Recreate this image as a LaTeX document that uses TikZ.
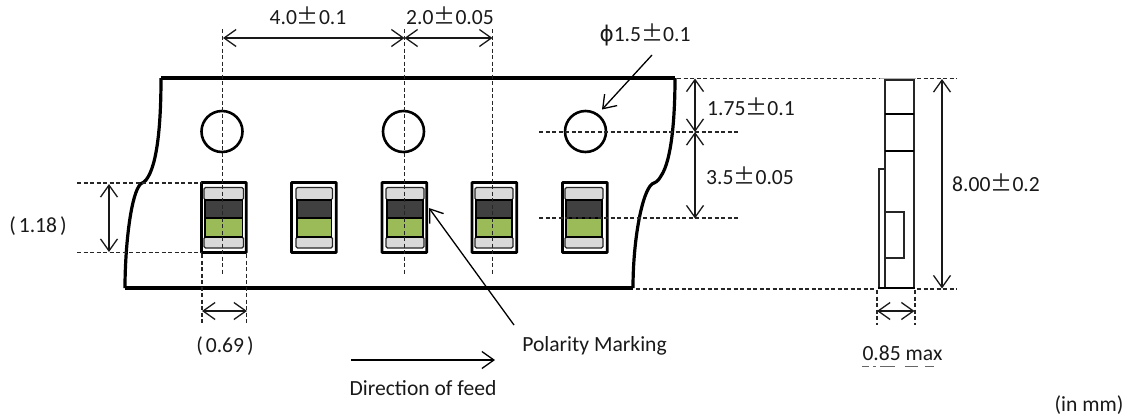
\documentclass[tikz,border=0pt]{standalone}
\usepackage{fontspec}
\setmainfont{Carlito}
\newfontfamily\cjkf{Noto Sans CJK JP}
\newfontfamily\phif{DejaVu Sans}
\usetikzlibrary{arrows.meta}
\newcommand{\pmm}{{\cjkf\scalebox{1.02}{±}}}
\newcommand{\lpar}{(\kern3pt}
\newcommand{\rpar}{\kern3pt)}
\definecolor{capgray}{HTML}{D9D9D9}
\definecolor{darkbody}{HTML}{404040}
\definecolor{greenbody}{HTML}{9BBB59}
\tikzset{
  tape/.style={draw=black,line width=3.6pt},
  tapecurve/.style={draw=black,line width=3.2pt},
  hole/.style={draw=black,line width=2.6pt},
  pocket/.style={draw=black,line width=2.8pt,rounded corners=0.5pt},
  capbox/.style={draw=black!85,line width=1.1pt,fill=capgray,rounded corners=1.5pt},
  bodybox/.style={draw=black,line width=1.1pt},
  guide/.style={draw=black!85,line width=1.25pt,dash pattern=on 4pt off 2.5pt},
  dim/.style={draw=black!90,line width=1.3pt,{Straight Barb[length=12pt,width=17pt]}-{Straight Barb[length=12pt,width=17pt]}},
  lead/.style={draw=black,line width=1.3pt,-{Straight Barb[length=12pt,width=17pt]}},
  side/.style={draw=black!85,line width=1.6pt},
  lab/.style={font=\fontsize{21.6}{24}\selectfont,inner sep=0pt,text=black!90},
}
\begin{document}
\begin{tikzpicture}[x=1pt,y=-1pt]
\useasboundingbox (0,0) rectangle (1127,416);
% tape
\coordinate (tl) at (161,78); \coordinate (tr) at (675,78);
\coordinate (bl) at (125,288); \coordinate (br) at (633,288);
\draw[tape] (tl) -- (tr);
\draw[tape] (bl) -- (br);
\draw[tapecurve] (tl) .. controls (161,120) and (158,165) .. (146,180) .. controls (143,184) and (141,182) .. (139,186) .. controls (130,200) and (125,250) .. (bl);
\draw[tapecurve] (tr) .. controls (675,115) and (672,160) .. (661,176) .. controls (657,183) and (655,182) .. (652,184) .. controls (642,192) and (633,240) .. (br);
% holes
\node[hole,circle,minimum size=41pt,inner sep=0pt] (h1) at (222,131.5) {};
\node[hole,circle,minimum size=41pt,inner sep=0pt] (h2) at (403.5,131.5) {};
\node[hole,circle,minimum size=41pt,inner sep=0pt] (h3) at (585.5,131.5) {};
% pockets: left edge of pocket, left/right of component
\foreach \pl/\cl/\cr in {201.5/204/243.5, 291.5/296/332.5, 382/386/424, 472/475/513, 562.5/565/603}{
  \draw[pocket] (\pl,182.5) rectangle ++(44.7,70);
  \draw[capbox] (\cl,187.5) rectangle (\cr,199.8);
  \draw[capbox] (\cl,237) rectangle (\cr,248);
  \draw[bodybox,fill=darkbody] (\cl+1,200) rectangle (\cr-1,218);
  \draw[bodybox,fill=greenbody] (\cl+1,218) rectangle (\cr-1,237);
}
% centre lines
\coordinate (c1t) at (222.7,29); \coordinate (c1b) at (222.7,275);
\coordinate (c2t) at (404.8,29); \coordinate (c2b) at (404.8,275);
\coordinate (c3t) at (492.4,29); \coordinate (c3b) at (492.4,275);
\draw[guide] (c1t) -- (c1b);
\draw[guide] (c2t) -- (c2b);
\draw[guide] (c3t) -- (c3b);
% horizontal guides
\draw[guide] (77,183) -- (201,183);
\draw[guide] (77,252.5) -- (201,252.5);
\draw[guide] (539,132) -- (740,132);
\draw[guide] (539,218) -- (740,218);
\draw[guide] (677,78.5) -- (880,78.5);
\draw[guide] (917,78.5) -- (957,78.5);
\draw[guide] (636,289) -- (875,289);
\draw[guide] (917,289) -- (957,289);
\draw[black!30,line width=1pt] (880,78.5) -- (916,78.5);
% vertical guides
\draw[guide] (202,254) -- (202,325);
\draw[guide] (246.7,254) -- (246.7,325);
\draw[guide] (877,290) -- (877,325);
\draw[guide] (915,290) -- (915,325);
% dimension arrows
\coordinate (a1l) at (223,38); \coordinate (a1m) at (404.5,38); \coordinate (a1r) at (492.5,38);
\draw[dim] (a1l) -- (a1m);
\draw[dim] (a1m) -- (a1r);
\coordinate (a2t) at (109,184); \coordinate (a2b) at (109,252);
\draw[dim] (a2t) -- (a2b);
\coordinate (a3l) at (202,311); \coordinate (a3r) at (247,311);
\draw[dim] (a3l) -- (a3r);
\coordinate (a4t) at (695,78.5); \coordinate (a4m) at (695,132); \coordinate (a4b) at (695,218.5);
\draw[dim] (a4t) -- (a4m);
\draw[dim] (a4m) -- (a4b);
\coordinate (a5t) at (942,79); \coordinate (a5b) at (942,288.5);
\draw[dim] (a5t) -- (a5b);
\coordinate (a6l) at (877,311); \coordinate (a6r) at (914.5,311);
\draw[dim] (a6l) -- (a6r);
% leaders
\coordinate (l1s) at (652,55); \coordinate (l1e) at (602,109.5);
\draw[lead] (l1s) -- (l1e);
\coordinate (l2s) at (514,325); \coordinate (l2e) at (429,208);
\draw[lead] (l2s) -- (l2e);
\coordinate (l3s) at (351,360); \coordinate (l3e) at (495,360);
\draw[lead] (l3s) -- (l3e);
% side view
\draw[side] (885,80) rectangle (913.7,288);
\draw[side] (885,211.7) rectangle (904,258);
\draw[side] (878.7,168.7) rectangle (885,288);
\draw[black,line width=2.6pt] (885,114) -- (913.7,114);
\draw[black,line width=2.6pt] (885,151) -- (913.7,151);
\draw[black,line width=2.2pt] (878,288) -- (914.5,288);
% clipped remnant under 0.85 max
\draw[black!60,line width=0.8pt] (862,366) -- (869,366) (873,366) -- (876,366) (880,366) -- (895,366) (905,366) -- (918,366) (925,366) -- (934,366);
% labels
\node[lab] (t1) at (308,16) {4.0\pmm0.1};
\node[lab] (t2) at (450,16) {2.0\pmm0.05};
\node[lab] (t3) at (645,35) {{\phif ϕ}1.5\pmm0.1};
\node[lab] (t4) at (751,107) {1.75\pmm0.1};
\node[lab] (t5) at (750,176) {3.5\pmm0.05};
\node[lab] (t6) at (996,183) {8.00\pmm0.2};
\node[lab] (t7) at (38,226) {\lpar 1.18\rpar};
\node[lab] (t8) at (225,346) {\lpar 0.69\rpar};
\node[lab] (t9) at (594.5,346) {Polarity Marking};
\node[lab] (t10) at (423,388) {Direction of feed};
\node[lab] (t11) at (902.5,353) {0.85 max};
\node[lab] (t12) at (1089,405) {(in mm)};
\end{tikzpicture}
\end{document}
